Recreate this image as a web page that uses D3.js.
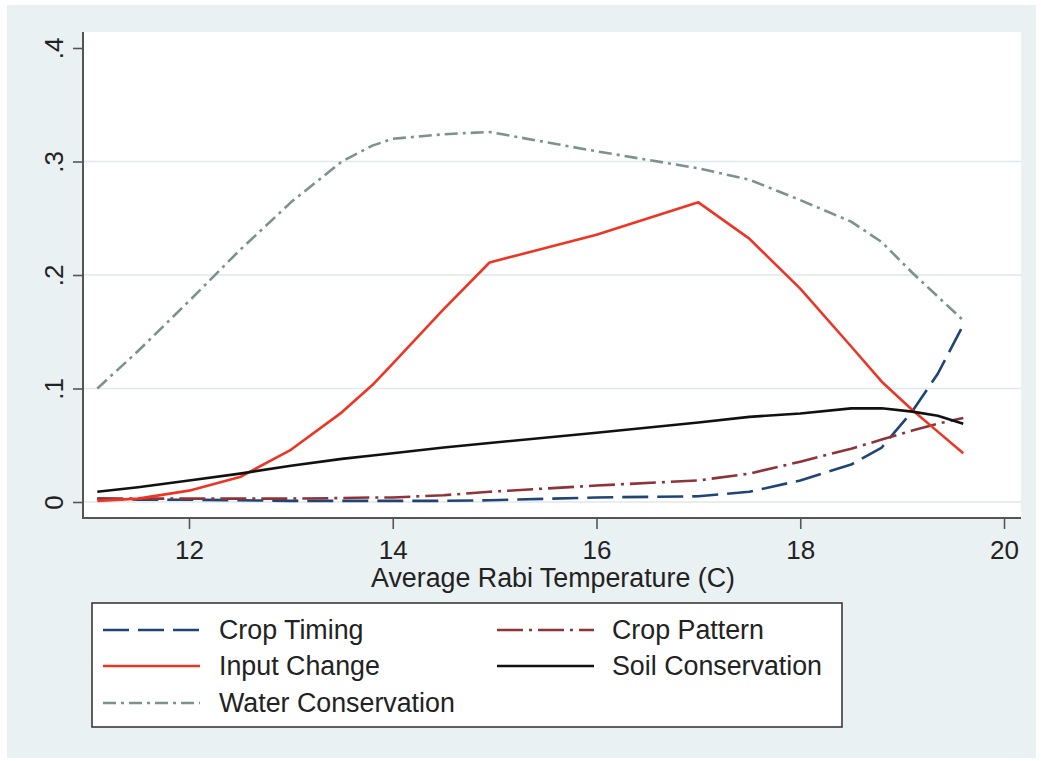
<!DOCTYPE html>
<html>
<head>
<meta charset="utf-8">
<script src="https://cdn.jsdelivr.net/npm/d3@7"></script>
<style>
  html, body { margin: 0; padding: 0; background: #ffffff; }
  svg { display: block; font-family: "Liberation Sans", Arial, Helvetica, sans-serif; }
</style>
</head>
<body>
<svg id="chart" width="1042" height="761"></svg>
<script>
// Average Rabi temperature (C) at which each adaptation share is evaluated
const temperature = [11.1, 11.5, 12.0, 12.5, 13.0, 13.5, 13.8, 14.0, 14.5, 14.95, 16.0, 17.0, 17.5, 18.0, 18.5, 18.8, 19.1, 19.35, 19.6];

const cropTiming        = [0.003, 0.002, 0.002, 0.0015, 0.001, 0.001, 0.001, 0.001, 0.001, 0.0015, 0.004, 0.005, 0.009, 0.019, 0.033, 0.048, 0.080, 0.113, 0.156];
const cropPattern       = [0.003, 0.003, 0.003, 0.003, 0.003, 0.0035, 0.004, 0.004, 0.006, 0.009, 0.0145, 0.019, 0.025, 0.0355, 0.047, 0.055, 0.063, 0.069, 0.074];
const inputChange       = [0.001, 0.003, 0.010, 0.022, 0.046, 0.079, 0.103, 0.122, 0.170, 0.211, 0.2355, 0.264, 0.232, 0.188, 0.137, 0.106, 0.081, 0.062, 0.043];
const soilConservation  = [0.009, 0.013, 0.019, 0.025, 0.032, 0.038, 0.041, 0.043, 0.048, 0.052, 0.061, 0.070, 0.075, 0.078, 0.0825, 0.0826, 0.0796, 0.076, 0.069];
const waterConservation = [0.100, 0.133, 0.177, 0.222, 0.264, 0.300, 0.314, 0.320, 0.324, 0.326, 0.309, 0.294, 0.284, 0.266, 0.247, 0.229, 0.202, 0.181, 0.160];

const xTicks = [12, 14, 16, 18, 20];
const yTicks = [0, 0.1, 0.2, 0.3, 0.4];
const yTickLabels = ["0", ".1", ".2", ".3", ".4"];
const gridTicks = [0, 0.1, 0.2, 0.3];

const xTitle = "Average Rabi Temperature (C)";

const series = [
  { name: "Crop Timing",        values: cropTiming,        color: "#1f4577", dash: "26 9",          col: 0, row: 0 },
  { name: "Crop Pattern",       values: cropPattern,       color: "#8f3339", dash: "26 6 3 6",      col: 1, row: 0 },
  { name: "Input Change",       values: inputChange,       color: "#ee3524", dash: null,            col: 0, row: 1 },
  { name: "Soil Conservation",  values: soilConservation,  color: "#111111", dash: null,            col: 1, row: 1 },
  { name: "Water Conservation", values: waterConservation, color: "#7b938c", dash: "13 5 3 5",      col: 0, row: 2 }
];

const svg = d3.select("#chart");

// outer graph region
svg.append("rect").attr("x", 7).attr("y", 5).attr("width", 1029).attr("height", 753).attr("fill", "#eaf1f3");

// plot region
const plot = { left: 83, right: 1021, top: 32, bottom: 518 };
svg.append("rect")
  .attr("x", plot.left).attr("y", plot.top)
  .attr("width", plot.right - plot.left).attr("height", plot.bottom - plot.top)
  .attr("fill", "#ffffff");

const x = d3.scaleLinear().domain([12, 20]).range([189, 1004]);
const y = d3.scaleLinear().domain([0, 0.4]).range([502, 48]);

// horizontal grid lines
svg.append("g").selectAll("line").data(gridTicks).join("line")
  .attr("x1", plot.left).attr("x2", plot.right)
  .attr("y1", d => y(d)).attr("y2", d => y(d))
  .attr("stroke", "#e0e9eb").attr("stroke-width", 1.6);

// y axis
const yAxis = d3.axisLeft(y).tickValues(yTicks).tickSize(10).tickSizeOuter(0)
  .tickFormat((d, i) => yTickLabels[i]);
const gy = svg.append("g").attr("transform", `translate(${plot.left},0)`).call(yAxis);
gy.select(".domain").remove();
gy.selectAll(".tick line").attr("stroke", "#555").attr("stroke-width", 1.6);
gy.selectAll(".tick text")
  .attr("x", null).attr("dy", null)
  .attr("transform", "translate(-20,0) rotate(-90)")
  .attr("text-anchor", "middle")
  .attr("font-size", 26).attr("fill", "#222")
  .attr("font-family", "Liberation Sans, Arial, sans-serif");
svg.append("line").attr("x1", plot.left).attr("x2", plot.left)
  .attr("y1", plot.top).attr("y2", plot.bottom + 1)
  .attr("stroke", "#555").attr("stroke-width", 2);

// x axis
const xAxis = d3.axisBottom(x).tickValues(xTicks).tickSize(11).tickSizeOuter(0).tickFormat(d3.format("d"));
const gx = svg.append("g").attr("transform", `translate(0,${plot.bottom})`).call(xAxis);
gx.select(".domain").remove();
gx.selectAll(".tick line").attr("stroke", "#555").attr("stroke-width", 1.6);
gx.selectAll(".tick text")
  .attr("dy", null).attr("y", 41)
  .attr("font-size", 26).attr("fill", "#222")
  .attr("font-family", "Liberation Sans, Arial, sans-serif");
svg.append("line").attr("x1", plot.left - 1).attr("x2", plot.right)
  .attr("y1", plot.bottom).attr("y2", plot.bottom)
  .attr("stroke", "#555").attr("stroke-width", 2);

svg.append("text")
  .attr("x", 553).attr("y", 587)
  .attr("text-anchor", "middle")
  .attr("font-size", 26.8).attr("fill", "#222")
  .text(xTitle);

// series lines
const line = d3.line()
  .x((d, i) => x(temperature[i]))
  .y(d => y(d))
  .curve(d3.curveLinear);

svg.append("g").selectAll("path").data(series).join("path")
  .attr("d", s => line(s.values))
  .attr("fill", "none")
  .attr("stroke", s => s.color)
  .attr("stroke-width", 2.6)
  .attr("stroke-linejoin", "round")
  .attr("stroke-dasharray", s => s.dash);

// legend
const legend = svg.append("g");
legend.append("rect")
  .attr("x", 92).attr("y", 603).attr("width", 750).attr("height", 124)
  .attr("fill", "#ffffff").attr("stroke", "#3a3a3a").attr("stroke-width", 1.6);

const colKeyX = [103, 497];
const colTextX = [219, 612];
const rowY = [630, 666, 703];

const items = legend.selectAll("g.item").data(series).join("g").attr("class", "item");
items.append("line")
  .attr("x1", s => colKeyX[s.col]).attr("x2", s => colKeyX[s.col] + 97)
  .attr("y1", s => rowY[s.row]).attr("y2", s => rowY[s.row])
  .attr("stroke", s => s.color).attr("stroke-width", 2.6)
  .attr("stroke-dasharray", s => s.dash);
items.append("text")
  .attr("x", s => colTextX[s.col]).attr("y", s => rowY[s.row] + 9)
  .attr("font-size", 26.8).attr("fill", "#222")
  .text(s => s.name);
</script>
</body>
</html>
